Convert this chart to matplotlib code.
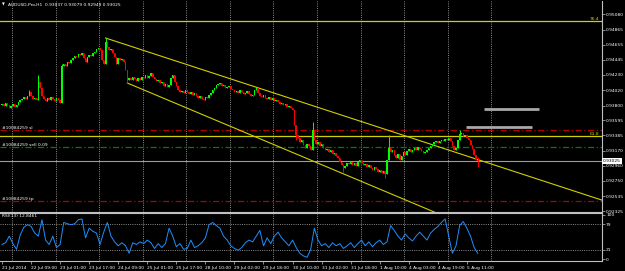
import matplotlib
matplotlib.use("Agg")
import matplotlib.pyplot as plt
import matplotlib.transforms as mtransforms
import numpy as np

plt.rcParams['font.family'] = ['DejaVu Sans']

# ---------------- data ----------------
symbol_title = "AUDUSD-Pro,H1  0.93037 0.93079 0.92949 0.93025"
first_open = 0.93810
close = [
    0.93824, 0.93796, 0.93838, 0.93810, 0.93768, 0.93796, 0.93824, 0.93782, 0.93810, 0.93852,
    0.93880, 0.93894, 0.93922, 0.93894, 0.93936, 0.93992, 0.93936, 0.93894, 0.93908, 0.93880,
    0.94132, 0.94048, 0.93936, 0.93894, 0.93866, 0.93908, 0.93880, 0.93922, 0.93894, 0.93866,
    0.93908, 0.93880, 0.93838, 0.94356, 0.94384, 0.94356, 0.94412, 0.94398, 0.94440, 0.94468,
    0.94496, 0.94482, 0.94524, 0.94510, 0.94538, 0.94468, 0.94412, 0.94482, 0.94510, 0.94496,
    0.94538, 0.94552, 0.94594, 0.94608, 0.94580, 0.94440, 0.94384, 0.94692, 0.94622, 0.94580,
    0.94594, 0.94538, 0.94482, 0.94384, 0.94468, 0.94440, 0.94454, 0.94412, 0.94300, 0.94160,
    0.94188, 0.94160, 0.94202, 0.94174, 0.94146, 0.94188, 0.94160, 0.94202, 0.94188, 0.94230,
    0.94188, 0.94216, 0.94258, 0.94202, 0.94174, 0.94146, 0.94160, 0.94118, 0.94132, 0.94076,
    0.94104, 0.94062, 0.94090, 0.94188, 0.94230, 0.94132, 0.94076, 0.94020, 0.93992, 0.94006,
    0.93978, 0.94020, 0.93992, 0.93964, 0.93992, 0.93950, 0.93978, 0.93936, 0.93908, 0.93936,
    0.93894, 0.93880, 0.93922, 0.93908, 0.93950, 0.93978, 0.94020, 0.94048, 0.94090, 0.94104,
    0.94118, 0.94076, 0.94090, 0.94048, 0.94062, 0.94076, 0.94034, 0.94020, 0.93992, 0.94006,
    0.93978, 0.94020, 0.93992, 0.93964, 0.93978, 0.94006, 0.93964, 0.93936, 0.93950, 0.94020,
    0.94048, 0.93978, 0.93936, 0.93922, 0.93950, 0.93908, 0.93894, 0.93922, 0.93880, 0.93908,
    0.93866, 0.93880, 0.93852, 0.93824, 0.93838, 0.93810, 0.93824, 0.93782, 0.93796, 0.93768,
    0.93740, 0.93530, 0.93390, 0.93348, 0.93292, 0.93320, 0.93250, 0.93208, 0.93264, 0.93236,
    0.93180, 0.93460, 0.93320, 0.93264, 0.93292, 0.93236, 0.93264, 0.93208, 0.93180, 0.93194,
    0.93152, 0.93180, 0.93124, 0.93138, 0.93096, 0.93068, 0.93012, 0.92970, 0.92928, 0.92956,
    0.92998, 0.92984, 0.93012, 0.92970, 0.92998, 0.92956, 0.93012, 0.93040, 0.92998, 0.92970,
    0.92984, 0.92942, 0.92970, 0.92928, 0.92900, 0.92942, 0.92914, 0.92872, 0.92900, 0.92858,
    0.92886, 0.92844, 0.93040, 0.93208, 0.93152, 0.93180, 0.93110, 0.93068, 0.93124, 0.93040,
    0.93096, 0.93152, 0.93110, 0.93166, 0.93194, 0.93152, 0.93180, 0.93208, 0.93180, 0.93222,
    0.93194, 0.93166, 0.93138, 0.93152, 0.93180, 0.93208, 0.93236, 0.93264, 0.93292, 0.93306,
    0.93278, 0.93306, 0.93320, 0.93306, 0.93334, 0.93320, 0.93348, 0.93306, 0.93236, 0.93180,
    0.93208, 0.93320, 0.93404, 0.93418, 0.93376, 0.93390, 0.93348, 0.93320, 0.93250, 0.93194,
    0.93110, 0.93037, 0.93025,
]
spike_high = {15: 0.94020, 20: 0.94230, 33: 0.94384, 57: 0.94748, 171: 0.93572,
              213: 0.93390, 252: 0.93460, 262: 0.93079}
spike_low = {69: 0.94118, 162: 0.93320, 188: 0.92872, 211: 0.92788, 262: 0.92949}

rsi_values = [
    33, 37, 52, 35, 22, 54, 72, 78, 74, 59,
    52, 89, 43, 33, 52, 26, 33, 83, 80, 78,
    80, 89, 91, 48, 70, 63, 59, 33, 61, 83,
    52, 39, 30, 37, 30, 13, 37, 33, 39, 35,
    43, 37, 24, 35, 26, 35, 70, 52, 28, 35,
    22, 24, 43, 26, 30, 37, 48, 78, 83, 76,
    70, 52, 43, 30, 24, 20, 26, 37, 43, 39,
    52, 65, 30, 48, 35, 52, 61, 48, 39, 30,
    43, 26, 13, 7, 4, 22, 70, 43, 30, 35,
    26, 37, 30, 35, 24, 30, 37, 26, 35, 43,
    30, 39, 28, 37, 43, 33, 39, 76, 65, 52,
    43, 57, 48, 41, 52, 61, 52, 43, 59, 67,
    74, 83, 91, 52, 13, 30, 76, 85, 70, 52,
    26, 12.85,
]
rsi_step = 2          # one RSI reading every 2 bars
rsi_label = "RSI(13) 12.8461"

time_labels = ["21 Jul 2014", "22 Jul 09:00", "23 Jul 01:00", "23 Jul 17:00", "24 Jul 09:00",
               "25 Jul 01:00", "25 Jul 17:00", "28 Jul 10:00", "29 Jul 02:00", "29 Jul 18:00",
               "30 Jul 10:00", "31 Jul 02:00", "31 Jul 18:00", "1 Aug 10:00", "4 Aug 03:00",
               "4 Aug 19:00", "5 Aug 11:00"]
label_step = 16       # bars between time labels

price_ticks = [0.95080, 0.94865, 0.94655, 0.94445, 0.94230, 0.94020, 0.93800, 0.93595,
               0.93385, 0.93170, 0.92960, 0.92750, 0.92535, 0.92325]
price_tick_labels = ["0.95080", "0.94865", "0.94655", "0.94445", "0.94230", "0.94020", "0.93800",
                     "0.93595", "0.93385", "0.93170", "0.92960", "0.92750", "0.92535", "0.92325"]
rsi_ticks = [100, 79, 21, 0]
rsi_levels = [79, 21]

bid = 0.93025
bid_label = "0.93025"
fib_levels = [("76.4", 0.94986), ("61.8", 0.93376)]
order_id = "#10084259"
order_lines = [("sl", 0.93460, '#b00000'), ("sell 0.09", 0.93222, '#008000'), ("tp", 0.92466, '#b00000')]
trend_upper = [(57, 0.94748), (262, 0.93046)]
trend_lower = [(69, 0.94118), (238, 0.92312)]
gray_segments = [(265.4, 295.7, 0.93754), (255.5, 291.9, 0.93502)]
grid_start, grid_step, grid_count = 5.5, 24, 12

# ---------------- figure ----------------
W, H = 625, 271
PX = 602
fig = plt.figure(figsize=(W / 100, H / 100), dpi=100, facecolor='black')
ax = fig.add_axes([0, 1 - 212 / H, PX / W, 211 / H], facecolor='black')
rax = fig.add_axes([0, 1 - 261 / H, PX / W, 48 / H], facecolor='black')
XL = (-1.1, 330.4)
ax.set_xlim(XL)
rax.set_xlim(XL)
ax.set_ylim(0.92312, 0.95266)
rax.set_ylim(-4.5, 104.5)

FS = 3.2
SP = '#c0c0c0'
YEL = '#d0d000'

# grid
for k in range(grid_count):
    g = grid_start + k * grid_step
    for a in (ax, rax):
        a.axvline(g, color='#8c8c8c', lw=0.7, ls=(0, (1, 1.3)), zorder=1)
for lv in rsi_levels:
    rax.axhline(lv, color='#8c8c8c', lw=0.7, ls=(0, (1, 1.3)), zorder=1)

# horizontal levels
trans = mtransforms.blended_transform_factory(ax.transAxes, ax.transData)
for name, lv in fib_levels:
    ax.axhline(lv, color=YEL, lw=0.9, zorder=2)
    ax.text(599 / PX, lv, name, transform=trans, ha='right', va='bottom', fontsize=FS, color=YEL)
for name, lv, colr in order_lines:
    ax.axhline(lv, color=colr, lw=0.9, ls=(0, (5, 2, 1, 2)), zorder=2)
    ax.text(2 / PX, lv, f"{order_id} {name}", transform=trans, ha='left', va='bottom',
            fontsize=FS, color='white')
ax.axhline(bid, color='#9a9ab4', lw=0.8, zorder=2)
for x0, x1, lv in gray_segments:
    ax.hlines(lv, x0, x1, color='#a8a8a8', lw=2, zorder=3)

# trend lines (rays)
for (b0, p0), (b1, p1) in (trend_upper, trend_lower):
    slope = (p1 - p0) / (b1 - b0)
    ax.plot([b0, XL[1]], [p0, p0 + slope * (XL[1] - b0)], color=YEL, lw=0.8, zorder=4)

# candles
n = len(close)
o = np.array([first_open] + close[:-1])
c = np.array(close)
hi = np.maximum(o, c)
lo = np.minimum(o, c)
for b, v in spike_high.items():
    hi[b] = v
for b, v in spike_low.items():
    lo[b] = v
idx = np.arange(n)
col = np.where(c >= o, '#00ff00', '#ff0000')
ax.vlines(idx, lo, hi, colors=col, lw=0.7, zorder=5)
ax.bar(idx, np.maximum(np.abs(c - o), 0.00006), bottom=np.minimum(o, c), width=0.8,
       color=col, linewidth=0, zorder=5)

# RSI
rsi_bars = np.arange(len(rsi_values)) * rsi_step
rax.plot(rsi_bars, rsi_values, color='#1e8fff', lw=0.7, zorder=5)
rax.text(2 / PX, 0.98, rsi_label, transform=rax.transAxes, ha='left', va='top',
         fontsize=FS, color='white')

# axes cosmetics
for a in (ax, rax):
    a.spines['left'].set_visible(False)
    for s in ('right', 'bottom', 'top'):
        a.spines[s].set_color(SP)
        a.spines[s].set_linewidth(0.8)
    a.yaxis.tick_right()
ax.spines['top'].set_visible(False)

ax.set_yticks(price_ticks)
ax.set_yticklabels(price_tick_labels)
ax.tick_params(axis='y', colors=SP, labelcolor='white', labelsize=FS, length=2, width=0.5, pad=1)
ax.set_xticks([])

rax.set_yticks(rsi_ticks)
rax.set_yticklabels([str(t) for t in rsi_ticks])
rax.tick_params(axis='y', colors=SP, labelcolor='white', labelsize=FS, length=2, width=0.5, pad=1)
rax.set_xticks(np.arange(len(time_labels)) * label_step)
rax.set_xticklabels(time_labels, ha='left')
rax.tick_params(axis='x', colors=SP, labelcolor='white', labelsize=FS, length=2.5, width=0.5, pad=1)

# bid price box
ax.text(1 + 1 / PX, bid, bid_label, transform=trans, ha='left', va='center', fontsize=FS,
        color='black', bbox=dict(boxstyle='square,pad=0.15', fc='white', ec='none'),
        clip_on=False, zorder=10)

# title
fig.text(2 / W, 1 - 5 / H, "\u25bc", fontsize=2.6, color='white', va='center')
fig.text(8 / W, 1 - 5 / H, symbol_title, fontsize=FS, color='white', va='center')

fig.savefig('out.png', dpi=100, facecolor='black')
